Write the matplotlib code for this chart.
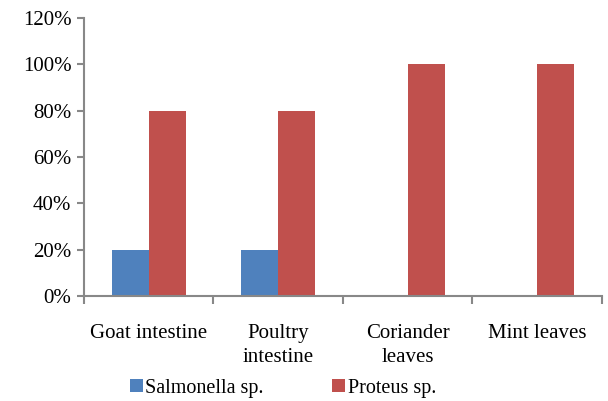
import matplotlib
matplotlib.use("Agg")
import matplotlib.pyplot as plt
import numpy as np
from matplotlib.ticker import FuncFormatter

categories = ["Goat intestine", "Poultry\nintestine", "Coriander\nleaves", "Mint leaves"]
salmonella = [20, 20, 0, 0]
proteus = [80, 80, 100, 100]
yticks = [0, 20, 40, 60, 80, 100, 120]

plt.rcParams['font.family'] = ['Liberation Serif', 'DejaVu Serif']

fig = plt.figure(figsize=(6.08, 4.01), dpi=100)
ax = fig.add_axes([0.138, 0.262, 0.852, 0.693])

x = np.arange(len(categories))
w = 0.286
ax.bar(x - w/2, salmonella, w, color='#4F81BD', label='Salmonella sp.')
ax.bar(x + w/2, proteus, w, color='#C0504D', label='Proteus sp.')

ax.set_xlim(-0.5, len(categories) - 0.5)
ax.set_ylim(0, 120)
ax.set_yticks(yticks)
ax.yaxis.set_major_formatter(FuncFormatter(lambda v, p: f"{v:.0f}%"))

ax.set_xticks(x)
ax.set_xticklabels(categories, linespacing=1.4)
ax.set_xticks(np.arange(len(categories) + 1) - 0.5, minor=True)
ax.tick_params(axis='x', which='major', length=0, pad=20, labelsize=15)
ax.tick_params(axis='x', which='minor', length=6, width=1.5, color='#888888', direction='out')
ax.tick_params(axis='y', length=5, width=1.5, color='#888888', labelsize=15, pad=4)

for s in ['top', 'right']:
    ax.spines[s].set_visible(False)
for s in ['left', 'bottom']:
    ax.spines[s].set_color('#888888')
    ax.spines[s].set_linewidth(1.5)

fig.legend(loc='lower center', bbox_to_anchor=(0.465, -0.012), ncol=2, frameon=False,
           fontsize=14.5, handlelength=0.65, handleheight=0.65, handletextpad=0.12,
           columnspacing=3.4, borderaxespad=0.0)

fig.savefig("out.png", dpi=100)
